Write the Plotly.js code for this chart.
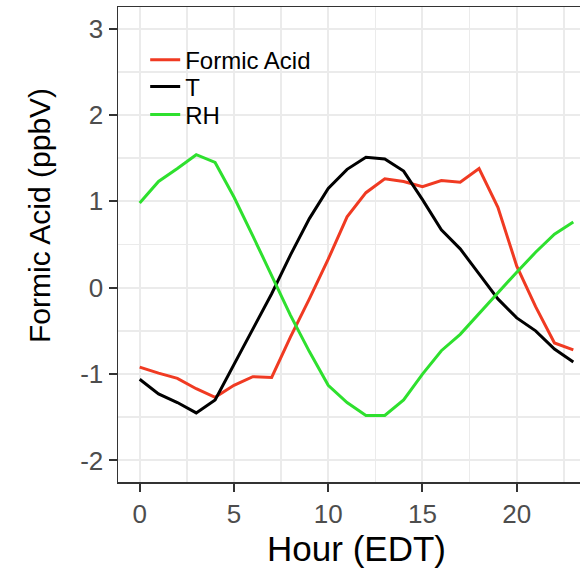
<!DOCTYPE html>
<html>
<head>
<meta charset="utf-8">
<script src="https://cdn.plot.ly/plotly-3.0.1.min.js"></script>
<style>
html, body { margin: 0; padding: 0; overflow: hidden; background: #fff; width: 580px; height: 570px; }
#chart { width: 620px; height: 570px; }
</style>
</head>
<body>
<div id="chart"></div>
<script>
const hours = [0,1,2,3,4,5,6,7,8,9,10,11,12,13,14,15,16,17,18,19,20,21,22,23];
const formicAcid = [-0.92,-0.99,-1.05,-1.17,-1.27,-1.13,-1.03,-1.04,-0.57,-0.13,0.33,0.82,1.10,1.26,1.23,1.17,1.24,1.22,1.38,0.93,0.25,-0.22,-0.64,-0.72];
const temperature = [-1.06,-1.23,-1.33,-1.45,-1.30,-0.89,-0.48,-0.07,0.38,0.80,1.15,1.37,1.51,1.49,1.35,1.02,0.67,0.45,0.16,-0.13,-0.35,-0.50,-0.71,-0.86];
const relHumidity = [0.98,1.23,1.38,1.54,1.45,1.05,0.60,0.13,-0.32,-0.74,-1.13,-1.33,-1.48,-1.48,-1.30,-1.00,-0.73,-0.54,-0.30,-0.05,0.18,0.41,0.62,0.76];
const seriesNames = ["Formic Acid", "T", "RH"];
const xTicks = [0,5,10,15,20];
const yTicks = [-2,-1,0,1,2,3];
const xTitle = "Hour (EDT)";
const yTitle = "Formic Acid (ppbV)";

const FONT = "Liberation Sans, Arial, Helvetica, sans-serif";
const colors = ["#F03A22", "#000000", "#2EE02E"];
const seriesData = [formicAcid, temperature, relHumidity];
const legendIds = ["legend", "legend2", "legend3"];

const traces = seriesData.map((ys, i) => ({
  x: hours, y: ys, type: "scatter", mode: "lines",
  name: seriesNames[i],
  line: { color: colors[i], width: 3 },
  legend: legendIds[i],
  hoverinfo: "skip"
}));

function legendAt(yPaper) {
  return {
    x: 0.057, xanchor: "left", y: yPaper, yanchor: "middle",
    bgcolor: "rgba(0,0,0,0)", borderwidth: 0,
    font: { family: FONT, size: 24, color: "#000000" },
    itemwidth: 30
  };
}

const layout = {
  width: 620, height: 570,
  margin: { l: 118, r: 25, t: 7, b: 88 },
  paper_bgcolor: "#ffffff", plot_bgcolor: "#ffffff",
  showlegend: true,
  legend: legendAt(0.888),
  legend2: legendAt(0.8316),
  legend3: legendAt(0.7726),
  xaxis: {
    range: [-1.15, 24.15],
    tickvals: xTicks, ticktext: xTicks.map(String),
    ticks: "outside", ticklen: 8, tickwidth: 2, tickcolor: "#333333",
    tickfont: { family: FONT, size: 26, color: "#4D4D4D" },
    showgrid: true, gridcolor: "#EBEBEB", gridwidth: 2,
    minor: { tickvals: [2.5, 7.5, 12.5, 17.5, 22.5], showgrid: true, gridcolor: "#EBEBEB", gridwidth: 1.5, ticks: "" },
    showline: true, linecolor: "#333333", linewidth: 1.5, mirror: true,
    zeroline: false,
    title: { text: xTitle, font: { family: FONT, size: 35, color: "#000000" }, standoff: 6 },
    automargin: false
  },
  yaxis: {
    range: [-2.25, 3.25],
    tickvals: yTicks, ticktext: yTicks.map(String),
    ticks: "outside", ticklen: 8, tickwidth: 2, tickcolor: "#333333",
    tickfont: { family: FONT, size: 26, color: "#4D4D4D" },
    showgrid: true, gridcolor: "#EBEBEB", gridwidth: 2,
    minor: { tickvals: [-1.5, -0.5, 0.5, 1.5, 2.5], showgrid: true, gridcolor: "#EBEBEB", gridwidth: 1.5, ticks: "" },
    showline: true, linecolor: "#333333", linewidth: 1.5, mirror: true,
    zeroline: false,
    automargin: false
  },
  annotations: [{
    text: yTitle, textangle: -90,
    xref: "paper", yref: "paper",
    x: (40 - 118) / 477, xanchor: "center",
    y: (482 - 216) / 475, yanchor: "middle",
    showarrow: false,
    font: { family: FONT, size: 30, color: "#000000" }
  }]
};

Plotly.newPlot("chart", traces, layout, { staticPlot: true, displayModeBar: false });
</script>
</body>
</html>
